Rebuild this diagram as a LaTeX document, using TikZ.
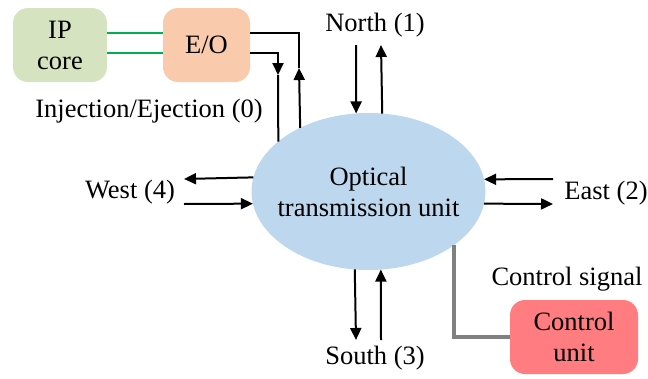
\documentclass[tikz,border=0pt]{standalone}
\usepackage{fontspec}
\setmainfont{Liberation Serif}
\usetikzlibrary{arrows.meta,positioning,shapes.geometric}
\definecolor{cIp} {HTML}{D5E3C0}
\definecolor{cEo} {HTML}{F9CBAC}
\definecolor{cOtu}{HTML}{BDD7EE}
\definecolor{cCtu}{HTML}{FF7C80}
\definecolor{cLnk}{HTML}{00B050}
\definecolor{cSig}{HTML}{808080}
\tikzset{
  blk/.style  ={rounded corners=15pt,align=center,inner sep=0pt,outer sep=0pt,
                minimum height=74pt},
  otu/.style  ={ellipse,fill=cOtu,inner sep=0pt,outer sep=0pt,
                minimum width=234pt,minimum height=157pt},
  lbl/.style  ={inner sep=0pt,align=center},
  sig/.style  ={-{Triangle[length=12pt,width=11pt]},draw=black,line width=2pt},
  wire/.style ={draw=black,line width=2pt},
  lnk/.style  ={draw=cLnk,line width=2pt},
  ctl/.style  ={draw=cSig,line width=3.6pt},
}

\begin{document}
\begin{tikzpicture}[font=\rmfamily\fontsize{26.5}{31}\selectfont, x=1pt, y=-1pt]
\useasboundingbox (0,0) rectangle (648,378);

% ===== blocks ==============================================================
\node[blk,fill=cIp,minimum width=94pt] (ip)  at (60,45)    {IP\\core};
\node[blk,fill=cEo,minimum width=87pt] (eo)  at (206.5,45) {E/O};
\node[otu] (otu) at (368.5,191.5) {};
\node[lbl] (otuTxt) at (otu.center) {Optical\\transmission unit};
\node[blk,fill=cCtu,minimum width=128pt] (ctu) at (574,337) {Control\\unit};

% ===== port labels =========================================================
\node[lbl] (inj)   at (149,111) {Injection/Ejection (0)};
\node[lbl] (north) at (375,25)  {North (1)};
\node[lbl] (east)  at (606,193) {East (2)};
\node[lbl] (south) at (375,358) {South (3)};
\node[lbl] (west)  at (130,192) {West (4)};
\node[lbl] (csig)  at (567,279) {Control signal};

% ===== IP core <-> E/O <-> router ==========================================
\draw[lnk] ([yshift=12pt]ip.east) -- ([yshift=12pt]eo.west);
\draw[lnk] ([yshift=-8pt]ip.east) -- ([yshift=-8pt]eo.west);
\coordinate (eoUp) at (299,68);
\coordinate (eoDn) at (278,75);
\draw[wire] ([yshift=12pt]eo.east) -| (eoUp);
\draw[sig]  (otu.137.7) -- (eoUp);
\draw[sig]  ([yshift=-8pt]eo.east) -| (eoDn);
\draw[wire] (eoDn) -- (otu.151.2);

% ===== compass ports =======================================================
\coordinate (nIn)  at (356,45);   \coordinate (nOut) at (381,45);
\coordinate (sOut) at (356,340);  \coordinate (sIn)  at (381,340);
\coordinate (wOut) at (184,179);  \coordinate (wIn)  at (184,204);
\coordinate (eIn)  at (553,179);  \coordinate (eOut) at (553,204);
\foreach \a/\b in {nIn/otu.99.1, otu.80.9/nOut, otu.260.9/sOut, sIn/otu.279.1,
                   otu.173.8/wOut, wIn/otu.186.2, eIn/otu.6.2, otu.-6.2/eOut}{%
  \draw[sig] (\a) -- (\b);}

% ===== control unit ========================================================
\draw[ctl] (otu.-32.7) |- (ctu.west);
\end{tikzpicture}
\end{document}
